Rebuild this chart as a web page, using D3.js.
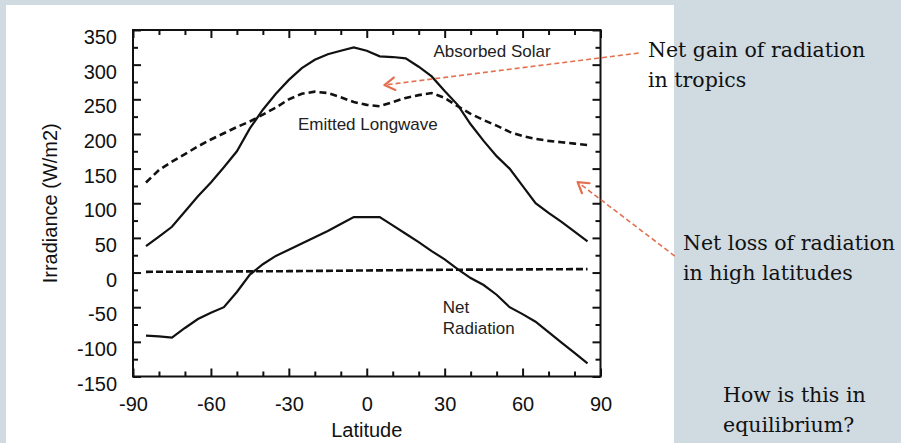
<!DOCTYPE html>
<html>
<head>
<meta charset="utf-8">
<script src="https://cdn.jsdelivr.net/npm/d3@7"></script>
<style>
    html, body { margin: 0; padding: 0; background: #cfdae1; }
    #div-chart { width: 901px; height: 443px; position: relative; }
    .frame { fill: none; stroke: #111; stroke-width: 2; }
    .tick line { stroke: #111; stroke-width: 2; }
    .tick text { font-family: "Liberation Sans", Arial, sans-serif; font-size: 20px; fill: #111; }
    .domain { display: none; }
    .curve-label { font-family: "Liberation Sans", Arial, sans-serif; font-size: 17px; fill: #222; }
    .note { font-family: "DejaVu Serif", Georgia, serif; font-size: 20.5px; fill: #111; }
</style>
</head>
<body>
<div id="div-chart"></div>
<script>
"use strict";

// Latitude (deg) shared by the three main curves.
const latitudes = [-85, -80, -75, -70, -65, -60, -55, -50, -45, -40, -35, -30, -25, -20, -15, -10, -5,
    0, 5, 10, 15, 20, 25, 30, 35, 40, 45, 50, 55, 60, 65, 70, 75, 80, 85];
// Irradiance in W/m2.
const absorbedSolar = [38, 52, 66, 88, 110, 130, 152, 175, 208, 235, 258, 278, 295, 307, 315, 320, 325,
    320, 312, 311, 309, 297, 283, 262, 242, 214, 190, 168, 150, 125, 100, 86, 73, 59, 45];
const emittedLongwave = [130, 148, 160, 171, 182, 192, 201, 210, 218, 228, 238, 250, 258, 261, 259, 253, 246,
    242, 240, 246, 252, 256, 259, 252, 240, 229, 220, 212, 203, 197, 193, 190, 188, 186, 184];
const netRadiation = [-91, -92, -94, -80, -67, -58, -50, -28, -3, 12, 24, 33, 42, 51, 60, 70, 80,
    80, 80, 68, 56, 44, 31, 19, 5, -8, -18, -32, -50, -60, -71, -86, -101, -116, -131];
// The zero reference line, drawn dashed.
const zeroLat = [-85, -30, 0, 30, 85];
const zeroValue = [1, 2, 3, 4, 5];

const xTicks = [-90, -60, -30, 0, 30, 60, 90];
const xMinorTicks = [-80, -70, -50, -40, -20, -10, 10, 20, 40, 50, 70, 80];
const yTicks = [-150, -100, -50, 0, 50, 100, 150, 200, 250, 300, 350];
const yMinorTicks = [-125, -75, -25, 25, 75, 125, 175, 225, 275, 325];

// Text labels on the curves, in data units.
const curveLabels = [
    {lines: ["Absorbed Solar"], lat: 25.7, value: 311},
    {lines: ["Emitted Longwave"], lat: -26.5, value: 205},
    {lines: ["Net", "Radiation"], lat: 29.3, value: -58}
];
// Orange arrows (tail -> head), in data units.
const arrows = [
    {from: [104.7, 316.7], to: [6.8, 270.6]},
    {from: [118.6, 23.8], to: [81.2, 130.6]}
];

class RadiationChart {

    constructor(selector) {
        this.svg = d3.select(selector)
            .append("svg")
            .attr("width", 901)
            .attr("height", 443);
    }

    show() {
        const svg = this.svg;

        // white panel holding the figure
        svg.append("rect")
            .attr("x", 6).attr("y", 5)
            .attr("width", 668).attr("height", 438)
            .attr("fill", "#fff");

        const x = d3.scaleLinear().domain([-90, 90]).range([133, 600.5]);
        const y = d3.scaleLinear().domain([-150, 350]).range([376.5, 30]);

        const line = d3.line()
            .x(d => x(d[0]))
            .y(d => y(d[1]));

        // plain hyphen for negatives, like the scanned figure
        const plain = d => String(d);

        // Ticks point into the plot on all four sides.
        svg.append("g").attr("transform", `translate(0,${y(-150)})`)
            .call(d3.axisBottom(x).tickValues(xTicks).tickSize(-8).tickPadding(20).tickFormat(plain));
        svg.append("g").attr("transform", `translate(0,${y(-150)})`)
            .call(d3.axisBottom(x).tickValues(xMinorTicks).tickSize(-5).tickFormat(""));
        svg.append("g").attr("transform", `translate(0,${y(350)})`)
            .call(d3.axisTop(x).tickValues(xTicks).tickSize(-8).tickFormat(""));
        svg.append("g").attr("transform", `translate(0,${y(350)})`)
            .call(d3.axisTop(x).tickValues(xMinorTicks).tickSize(-5).tickFormat(""));

        const yAxis = svg.append("g").attr("transform", `translate(${x(-90)},0)`)
            .call(d3.axisLeft(y).tickValues(yTicks).tickSize(-8).tickPadding(16).tickFormat(plain));
        yAxis.selectAll("text").attr("dy", "0.85em").attr("y", -3.5);
        svg.append("g").attr("transform", `translate(${x(-90)},0)`)
            .call(d3.axisLeft(y).tickValues(yMinorTicks).tickSize(-5).tickFormat(""));
        svg.append("g").attr("transform", `translate(${x(90)},0)`)
            .call(d3.axisRight(y).tickValues(yTicks).tickSize(-8).tickFormat(""));
        svg.append("g").attr("transform", `translate(${x(90)},0)`)
            .call(d3.axisRight(y).tickValues(yMinorTicks).tickSize(-5).tickFormat(""));

        svg.selectAll(".tick text").attr("font-family", null).attr("font-size", null);

        svg.append("rect")
            .attr("class", "frame")
            .attr("x", x(-90)).attr("y", y(350))
            .attr("width", x(90) - x(-90)).attr("height", y(-150) - y(350));

        // curves
        const g = svg.append("g").attr("fill", "none").attr("stroke", "#111");
        g.append("path")
            .datum(latitudes.map((d, i) => [d, absorbedSolar[i]]))
            .attr("stroke-width", 2.2)
            .attr("d", line);
        g.append("path")
            .datum(latitudes.map((d, i) => [d, emittedLongwave[i]]))
            .attr("stroke-width", 2.6)
            .attr("stroke-dasharray", "7,4")
            .attr("d", line);
        g.append("path")
            .datum(latitudes.map((d, i) => [d, netRadiation[i]]))
            .attr("stroke-width", 2.2)
            .attr("d", line);
        g.append("path")
            .datum(zeroLat.map((d, i) => [d, zeroValue[i]]))
            .attr("stroke-width", 2.6)
            .attr("stroke-dasharray", "7,3")
            .attr("d", line);

        // labels on the curves
        curveLabels.forEach(c => {
            const t = svg.append("text")
                .attr("class", "curve-label")
                .attr("x", x(c.lat))
                .attr("y", y(c.value));
            c.lines.forEach((s, i) => {
                t.append("tspan").attr("x", x(c.lat)).attr("dy", i === 0 ? 0 : 21).text(s);
            });
        });

        // axis titles
        svg.append("text")
            .attr("text-anchor", "middle")
            .attr("x", (x(-90) + x(90)) / 2)
            .attr("y", 437)
            .attr("font-family", "Liberation Sans, Arial, sans-serif")
            .attr("font-size", 20)
            .attr("fill", "#111")
            .text("Latitude");
        svg.append("text")
            .attr("text-anchor", "middle")
            .attr("transform", `translate(57,${(y(-150) + y(350)) / 2}) rotate(-90)`)
            .attr("font-family", "Liberation Sans, Arial, sans-serif")
            .attr("font-size", 20)
            .attr("fill", "#111")
            .text("Irradiance (W/m2)");

        // orange dashed arrows
        const arrowColor = "#e2704f";
        arrows.forEach(a => {
            const x0 = x(a.from[0]), y0 = y(a.from[1]);
            const x1 = x(a.to[0]), y1 = y(a.to[1]);
            svg.append("line")
                .attr("x1", x0).attr("y1", y0).attr("x2", x1).attr("y2", y1)
                .attr("stroke", arrowColor)
                .attr("stroke-width", 1.6)
                .attr("stroke-dasharray", "5,3");
            const ang = Math.atan2(y1 - y0, x1 - x0);
            const len = 12, spread = 0.55;
            const head = [
                [x1 - len * Math.cos(ang - spread), y1 - len * Math.sin(ang - spread)],
                [x1, y1],
                [x1 - len * Math.cos(ang + spread), y1 - len * Math.sin(ang + spread)]
            ];
            svg.append("path")
                .attr("d", d3.line()(head))
                .attr("fill", "none")
                .attr("stroke", arrowColor)
                .attr("stroke-width", 2.2)
                .attr("stroke-linecap", "round")
                .attr("stroke-linejoin", "round");
        });

        // notes on the right
        const notes = [
            {x: 648, y: 57, lines: ["Net gain of radiation", "in tropics"]},
            {x: 683, y: 250, lines: ["Net loss of radiation", "in high latitudes"]},
            {x: 723, y: 402, lines: ["How is this in", "equilibrium?"]}
        ];
        notes.forEach(n => {
            const t = svg.append("text").attr("class", "note").attr("x", n.x).attr("y", n.y);
            n.lines.forEach((s, i) => {
                t.append("tspan").attr("x", n.x).attr("dy", i === 0 ? 0 : 29.5).text(s);
            });
        });
    }
}

new RadiationChart("#div-chart").show();
</script>
</body>
</html>
